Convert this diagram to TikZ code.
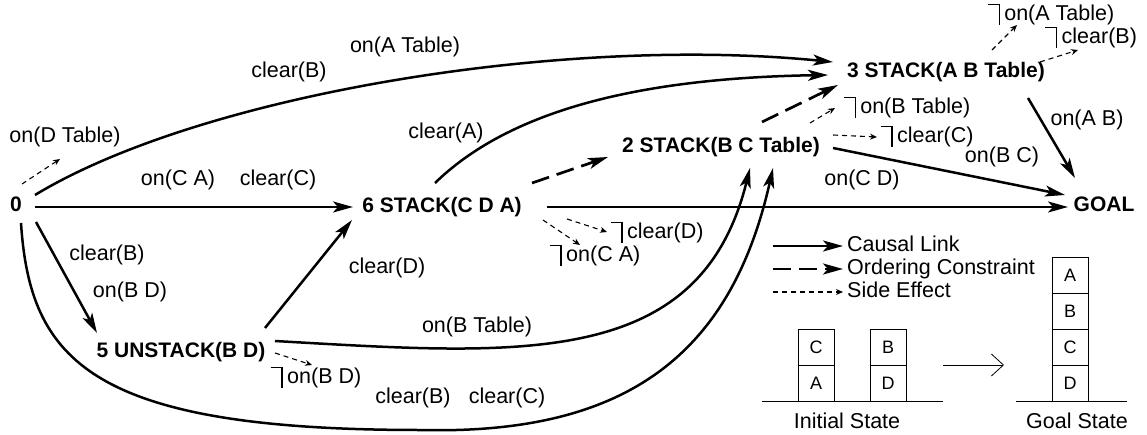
\documentclass[tikz,border=0pt]{standalone}
\usepackage{fontspec}
\setmainfont{Liberation Sans}
\usetikzlibrary{arrows.meta,calc}
\newcommand\negmark{\rule[0.72em]{0.5em}{0.07em}\rule[-0.2em]{0.07em}{0.99em}\hspace{0.2em}}
\begin{document}
\begin{tikzpicture}[x=1pt,y=-1pt,
  lbl/.style={font=\fontsize{21.5}{25}\selectfont, inner sep=0pt, text height=15.5pt, text depth=4.3pt},
  act/.style={font=\fontsize{21}{25}\selectfont\bfseries, inner sep=0pt, text height=15.5pt, text depth=4.3pt},
  causal/.style={line width=2.5pt, -{Stealth[length=20pt,width=11pt,inset=5pt]}},
  order/.style={line width=2.7pt, dash pattern=on 18pt off 8pt, -{Stealth[length=20pt,width=11pt,inset=5pt]}},
  side/.style={line width=1.1pt, dash pattern=on 5pt off 4pt, -{Stealth[open,length=7pt,width=6pt]}},
  blk/.style={draw, line width=0.8pt, minimum size=36pt, inner sep=0pt, font=\fontsize{18}{20}\selectfont},
  thin/.style={line width=0.8pt}]
\useasboundingbox[fill=white] (0,0) rectangle (1147,435);

% action nodes
\node[act] (n0) at (16,206) {0};
\node[act] (n6) at (442,207) {6 STACK(C D A)};
\node[act] (n2) at (721,147) {2 STACK(B C Table)};
\node[act] (n3) at (946,72) {3 STACK(A B Table)};
\node[act] (n5) at (181,352) {5 UNSTACK(B D)};
\node[act] (ng) at (1104,206) {GOAL};

% link labels
\node[lbl] (lDT) at (65,137) {on(D Table)};
\node[lbl] (l1) at (289,72) {clear(B)};
\node[lbl] (l2) at (405,47) {on(A Table)};
\node[lbl] (l3) at (446,133) {clear(A)};
\node[lbl] (l4) at (178,180) {on(C A)};
\node[lbl] (l5) at (278,180) {clear(C)};
\node[lbl] (l6) at (107,255) {clear(B)};
\node[lbl] (l7) at (130,292) {on(B D)};
\node[lbl] (l8) at (387,268) {clear(D)};
\node[lbl] (l9) at (477,327) {on(B Table)};
\node[lbl] (l10) at (413,398) {clear(B)};
\node[lbl] (l11) at (507,398) {clear(C)};
\node[lbl] (l12) at (862,180) {on(C D)};
\node[lbl] (l13) at (1002,157) {on(B C)};
\node[lbl] (l14) at (1087,120) {on(A B)};

% negated side effects
\node[lbl] (nAT) at (1051,15) {\negmark on(A Table)};
\node[lbl] (nCB) at (1091,38) {\negmark clear(B)};
\node[lbl] (nBT) at (907,108) {\negmark on(B Table)};
\node[lbl] (nCC) at (927,137) {\negmark clear(C)};
\node[lbl] (nCD) at (657,233) {\negmark clear(D)};
\node[lbl] (nCA) at (595,256) {\negmark on(C A)};
\node[lbl] (nBD) at (316,378) {\negmark on(B D)};

% causal links
\draw[causal] ($(n0)+(19,-11)$) .. controls (200,95) and (560,35) .. ($(n3)+(-113,-10)$);
\draw[causal] ($(n6)+(-7,-24)$) .. controls (510,110) and (640,78) .. ($(n3)+(-118,3)$);
\draw[causal] ($(n2)+(112,1)$) -- ($(ng)+(-39,-11)$);
\draw[causal] ($(n6)+(105,0)$) -- ($(ng)+(-36,1)$);
\draw[causal] ($(n3)+(82,26)$) -- ($(ng)+(-29,-28)$);
\draw[causal] ($(n0)+(19,1)$) -- ($(n6)+(-89,0)$);
\draw[causal] ($(n0)+(20,16)$) -- ($(n5)+(-84,-19)$);
\draw[causal] ($(n5)+(84,-24)$) -- ($(n6)+(-90,13)$);
\draw[causal] ($(n5)+(94,-11)$) .. controls (520,355) and (700,370) .. ($(n2)+(29,21)$);
\draw[causal] ($(n0)+(5,17)$) .. controls (30,360) and (90,430) .. (420,430)
   .. controls (620,435) and (730,360) .. ($(n2)+(52,21)$);

% ordering constraints
\draw[order] ($(n6)+(90,-24)$) -- ($(n2)+(-113,10)$);
\draw[order] ($(n2)+(41,-25)$) -- ($(n3)+(-108,13)$);

% side effects
\draw[side] ($(n0)+(6,-22)$) -- ($(lDT)+(-5,22)$);
\draw[side] ($(n3)+(46,-22)$) -- ($(nAT)+(-34,10)$);
\draw[side] ($(n3)+(94,-10)$) -- ($(nCB)+(-13,12)$);
\draw[side] ($(n2)+(89,-24)$) -- ($(nBT)+(-72,0)$);
\draw[side] ($(n2)+(112,-12)$) -- ($(nCC)+(-50,0)$);
\draw[side] ($(n6)+(125,12)$) -- ($(nCD)+(-50,-1)$);
\draw[side] ($(n6)+(101,13)$) -- ($(nCA)+(-15,-11)$);
\draw[side] ($(n5)+(94,1)$) -- ($(nBD)+(-4,-13)$);

% legend
\node[lbl, anchor=west] (kc) at (847,246) {Causal Link};
\node[lbl, anchor=west] (ko) at (847,269) {Ordering Constraint};
\node[lbl, anchor=west] (ks) at (847,292) {Side Effect};
\coordinate (kc0) at (773,246);
\coordinate (ko0) at (773,269);
\coordinate (ks0) at (773,292);
\draw[causal] (kc0) -- ($(kc.west)+(-4,0)$);
\draw[order] (ko0) -- ($(ko.west)+(-4,0)$);
\draw[side] (ks0) -- ($(ks.west)+(-4,0)$);

% blocks world
\node[blk] (iC) at (816,347) {C};
\node[blk] (iA) at (816,383) {A};
\node[blk] (iB) at (888,347) {B};
\node[blk] (iD) at (888,383) {D};
\node[blk] (gA) at (1070,275) {A};
\node[blk] (gB) at (1070,311) {B};
\node[blk] (gC) at (1070,347) {C};
\node[blk] (gD) at (1070,383) {D};
\draw[thin] (762,401) -- (943,401);
\draw[thin] (1016,401) -- (1127,401);
\coordinate (ar0) at (943,365);
\coordinate (ar1) at (1004,365);
\draw[thin, -{Straight Barb[length=12pt,width=22pt]}] (ar0) -- (ar1);
\node[lbl] (tI) at (847,423) {Initial State};
\node[lbl] (tG) at (1077,423) {Goal State};
\end{tikzpicture}
\end{document}
